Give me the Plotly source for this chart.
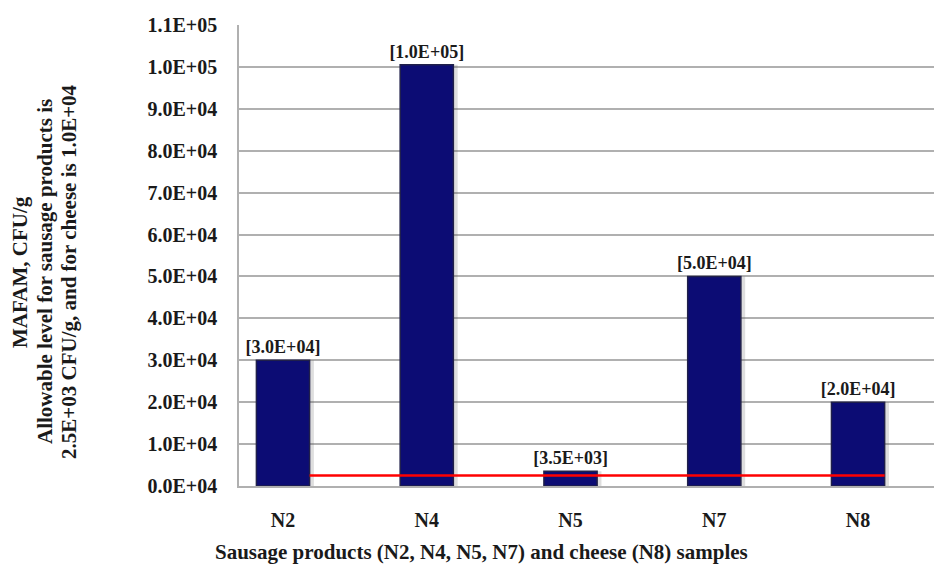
import plotly.graph_objects as go

# ---- data ----
categories = ["N2", "N4", "N5", "N7", "N8"]
values = [30000, 100500, 3500, 50000, 20000]
bar_labels = ["[3.0E+04]", "[1.0E+05]", "[3.5E+03]", "[5.0E+04]", "[2.0E+04]"]
limit_values = [2500, 2500, 2500, 2500, 2500]
y_tickvals = [0, 10000, 20000, 30000, 40000, 50000, 60000, 70000, 80000, 90000, 100000, 110000]
y_ticktext = ["0.0E+04", "1.0E+04", "2.0E+04", "3.0E+04", "4.0E+04", "5.0E+04",
              "6.0E+04", "7.0E+04", "8.0E+04", "9.0E+04", "1.0E+05", "1.1E+05"]
y_title_lines = ["MAFAM, CFU/g",
                 "Allowable level for sausage products is",
                 "2.5E+03 CFU/g, and for cheese is 1.0E+04"]
x_title = "Sausage products (N2, N4, N5, N7) and cheese (N8) samples"

FONT = "Liberation Serif"
BAR_W = 0.37
X_RANGE = [-0.306, 4.584]
SHADOW_SHIFT = 0.03
PLOT_L, PLOT_B, PLOT_W, PLOT_H = 239, 486, 703, 461  # screen pixels


def px_x(sx):
    return (sx - PLOT_L) / PLOT_W


def px_y(sy):
    return (PLOT_B - sy) / PLOT_H


fig = go.Figure()

# soft shadow on the right of each bar (drawn first, underneath)
fig.add_trace(go.Bar(
    x=categories, y=values, width=BAR_W, offset=-BAR_W / 2 + SHADOW_SHIFT,
    marker=dict(color="rgba(90,90,90,0.2)", line=dict(width=0)),
    showlegend=False, hoverinfo="skip",
))

# main bars
fig.add_trace(go.Bar(
    x=categories, y=values, width=BAR_W, offset=-BAR_W / 2, opacity=1,
    marker=dict(color="#0c0c74", opacity=1, line=dict(color="#20204a", width=1.5)),
    text=bar_labels, textposition="outside", cliponaxis=False, constraintext="none",
    textfont=dict(family=FONT, size=18, color="#1a1a1a", weight="bold"),
    outsidetextfont=dict(family=FONT, size=18, color="#1a1a1a", weight="bold"),
    showlegend=False, hoverinfo="x+y",
))

# allowable-level line
fig.add_trace(go.Scatter(
    x=categories, y=limit_values, mode="lines", xaxis="x2",
    line=dict(color="#ff0000", width=2.5),
    showlegend=False, hoverinfo="y",
))

annotations = []
for sx, line in zip([20, 45, 69], y_title_lines):
    annotations.append(dict(
        text="<b>" + line + "</b>", textangle=-90, xref="paper", yref="paper",
        x=px_x(sx), y=px_y(272), xanchor="center", yanchor="middle",
        showarrow=False, font=dict(family=FONT, size=21, color="#1a1a1a"),
    ))
annotations.append(dict(
    text="<b>" + x_title + "</b>", xref="paper", yref="paper",
    x=px_x(481), y=px_y(552), xanchor="center", yanchor="middle",
    showarrow=False, font=dict(family=FONT, size=21, color="#1a1a1a"),
))

fig.update_layout(
    width=934, height=558,
    margin=dict(l=231, r=0, t=17, b=80),
    paper_bgcolor="white", plot_bgcolor="white",
    font=dict(family=FONT, size=20, color="#1a1a1a"),
    barmode="overlay",
    xaxis=dict(
        type="category", categoryorder="array", categoryarray=categories,
        range=X_RANGE, showgrid=False, showline=True, linecolor="#b0b0b0", linewidth=1.5,
        ticks="outside", ticklen=15, tickcolor="rgba(0,0,0,0)",
        tickfont=dict(family=FONT, size=20, color="#1a1a1a", weight="bold"),
        fixedrange=True,
    ),
    xaxis2=dict(
        type="category", categoryorder="array", categoryarray=categories,
        overlaying="x", range=[X_RANGE[0] - BAR_W / 2, X_RANGE[1] - BAR_W / 2],
        visible=False, fixedrange=True,
    ),
    yaxis=dict(
        range=[0, 110000], tickvals=y_tickvals, ticktext=y_ticktext,
        showgrid=True, gridcolor="#b0b0b0", gridwidth=1.5,
        showline=True, linecolor="#b0b0b0", linewidth=1.5,
        zeroline=False,
        ticks="outside", ticklen=16, tickcolor="rgba(0,0,0,0)",
        tickfont=dict(family=FONT, size=20, color="#1a1a1a", weight="bold"),
    ),
    annotations=annotations,
)

fig.write_html("out.html")
